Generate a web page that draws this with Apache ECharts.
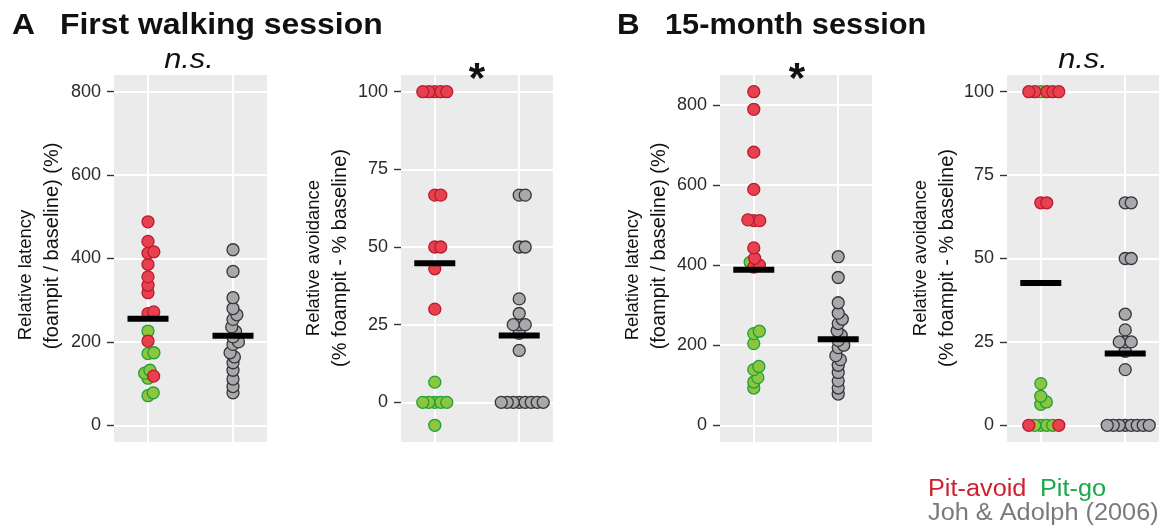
<!DOCTYPE html>
<html>
<head>
<meta charset="utf-8">
<title>Relative latency and avoidance</title>
<script src="https://cdn.jsdelivr.net/npm/echarts@6/dist/echarts.min.js"></script>
<style>
  html, body { margin: 0; padding: 0; background: #fff; }
  #chart { width: 1169px; height: 525px; }
</style>
</head>
<body>
<div id="chart"></div>
<script>
// values
var latencyTicks = [0, 200, 400, 600, 800];
var avoidTicks = [0, 25, 50, 75, 100];

// A: first walking session
var walkLatencyAvoid = [488, 441, 416, 413, 386, 356, 336, 318, 272, 268, 202, 118];
var walkLatencyGo = [226, 174, 172, 132, 125, 113, 78, 71];
var walkAvoidanceAvoid = [100, 100, 100, 100, 100, 66.7, 66.7, 50, 50, 43, 30];
var walkAvoidanceGo = [6.5, 0, 0, 0, 0, 0, -7.4];

// B: 15-month session
var monthLatencyAvoid = [833, 789, 682, 589, 513, 511, 511, 443, 417, 400, 395];
var monthLatencyGo = [407, 235, 229, 204, 147, 139, 119, 108, 93];
var monthAvoidanceAvoid = [100, 100, 100, 100, 100, 66.7, 66.7, 0, 0];
var monthAvoidanceGo = [100, 12.5, 8.7, 7, 6.3, 0, 0, 0, 0];

// Joh & Adolph (2006)
var johLatency = [421, 369, 306, 280, 265, 254, 236, 225, 212, 200, 194, 174, 164, 150, 132, 111, 93, 78];
var johAvoidance = [66.7, 66.7, 50, 50, 33.3, 28.6, 25, 25, 25, 22.2, 16.7, 0, 0, 0, 0, 0, 0, 0, 0];

var latencyName = ['Relative latency', '(foampit / baseline) (%)'];
var avoidName = ['Relative avoidance', '(% foampit - % baseline)'];

var RED = {color: '#e8404f', borderColor: '#b81c2e', borderWidth: 1.3, opacity: 1};
var GREEN = {color: '#8cc63f', borderColor: '#1f9f3c', borderWidth: 1.3, opacity: 1};
var GREY = {color: '#a7a9ac', borderColor: '#353535', borderWidth: 1.3, opacity: 1};

var TOP = 75, HEIGHT = 367;
var panels = [
  {left: 114, width: 153, avoid: walkLatencyAvoid, go: walkLatencyGo, joh: johLatency, ticks: latencyTicks, limits: [0, 800], name: latencyName},
  {left: 401, width: 152, avoid: walkAvoidanceAvoid, go: walkAvoidanceGo, joh: johAvoidance, ticks: avoidTicks, limits: [], name: avoidName},
  {left: 720, width: 152, avoid: monthLatencyAvoid, go: monthLatencyGo, joh: johLatency, ticks: latencyTicks, limits: [0, 800], name: latencyName},
  {left: 1007, width: 152, avoid: monthAvoidanceAvoid, go: monthAvoidanceGo, joh: johAvoidance, ticks: avoidTicks, limits: [], name: avoidName}
];

function mean(a) {
  var s = 0;
  a.forEach(function(v) { s += v; });
  return s / a.length;
}

// beeswarm: place points bottom-up, nearest free x offset (pixels)
function swarm(items, pxY, d) {
  var order = items.map(function(it, i) { return i; });
  order.sort(function(a, b) { return (items[a].v - items[b].v) || (a - b); });
  var placed = [];
  order.forEach(function(i) {
    var y = items[i].v * pxY;
    var cands = [0];
    placed.forEach(function(p) {
      var dy = Math.abs(p.y - y);
      if (dy < d) {
        var w = Math.sqrt(d * d - dy * dy);
        cands.push(p.x + w, p.x - w);
      }
    });
    cands.sort(function(a, b) { return (Math.abs(a) - Math.abs(b)) || (b - a); });
    var x = 0;
    for (var k = 0; k < cands.length; k++) {
      var ok = placed.every(function(p) {
        return Math.sqrt((p.x - cands[k]) * (p.x - cands[k]) + (p.y - y) * (p.y - y)) >= d - 1e-6;
      });
      if (ok) { x = cands[k]; break; }
    }
    placed.push({x: x, y: y, item: items[i]});
  });
  return placed;
}

var grids = [], xAxes = [], yAxes = [], series = [];

panels.forEach(function(p, idx) {
  var all = p.avoid.concat(p.go, p.joh, p.limits);
  var lo = Math.min.apply(null, all), hi = Math.max.apply(null, all);
  var pad = (hi - lo) * 0.05;
  var ymin = lo - pad, ymax = hi + pad;
  var pxY = HEIGHT / (ymax - ymin);
  var pxX = p.width / 1.8;

  grids.push({left: p.left, top: TOP, width: p.width, height: HEIGHT, show: true,
    backgroundColor: '#ebebeb', borderWidth: 0});
  xAxes.push({gridIndex: idx, type: 'value', min: 0.6, max: 2.4,
    axisLine: {show: false}, axisTick: {show: false}, axisLabel: {show: false}, splitLine: {show: false}});
  yAxes.push({gridIndex: idx, type: 'value', min: ymin, max: ymax,
    axisLine: {show: false}, splitLine: {show: false},
    axisTick: {show: true, length: 7, customValues: p.ticks, lineStyle: {color: '#333', width: 1.4}},
    axisLabel: {customValues: p.ticks, fontSize: 18, color: '#2a2a2a', margin: 13, fontFamily: 'Liberation Sans'}});

  // white grid lines (markLine defaults to z 5, keep it under the points)
  var lines = p.ticks.map(function(t) { return {yAxis: t}; }).concat([{xAxis: 1}, {xAxis: 2}]);
  series.push({type: 'scatter', xAxisIndex: idx, yAxisIndex: idx, data: [], z: 1, silent: true,
    markLine: {z: 1, silent: true, symbol: ['none', 'none'], label: {show: false}, animation: false,
      lineStyle: {color: '#ffffff', width: 2, type: 'solid', opacity: 1}, data: lines}});

  var groupA = p.go.map(function(v) { return {v: v, style: GREEN}; })
    .concat(p.avoid.map(function(v) { return {v: v, style: RED}; }));
  var groupB = p.joh.map(function(v) { return {v: v, style: GREY}; });
  // one swarm per column; pit-go drawn first, pit-avoid on top
  var layers = {go: [], avoid: [], joh: []};
  swarm(groupA, pxY, 6).forEach(function(s) {
    layers[s.item.style === GREEN ? 'go' : 'avoid'].push({value: [1 + s.x / pxX, s.item.v], itemStyle: s.item.style});
  });
  swarm(groupB, pxY, 6).forEach(function(s) {
    layers.joh.push({value: [2 + s.x / pxX, s.item.v], itemStyle: s.item.style});
  });
  ['joh', 'go', 'avoid'].forEach(function(k) {
    series.push({type: 'scatter', xAxisIndex: idx, yAxisIndex: idx, symbolSize: 12, z: 3,
      animation: false, data: layers[k]});
  });

  series.push({type: 'scatter', xAxisIndex: idx, yAxisIndex: idx, symbol: 'rect', symbolSize: [41, 6], z: 4,
    animation: false, itemStyle: {color: '#000', opacity: 1},
    data: [[1, mean(p.avoid.concat(p.go))], [2, mean(p.joh)]]});
});

function txt(x, y, s, style, sx, rot) {
  return {type: 'text', x: x, y: y, scaleX: sx || 1, rotation: rot || 0,
    style: Object.assign({text: s, fontFamily: 'Liberation Sans', fill: '#111', verticalAlign: 'middle'}, style)};
}

var graphics = [
  txt(12, 26, 'A', {fontSize: 29, fontWeight: 'bold'}, 1.1),
  txt(60, 26, 'First walking session', {fontSize: 29, fontWeight: 'bold'}, 1.1),
  txt(617, 26, 'B', {fontSize: 29, fontWeight: 'bold'}, 1.08),
  txt(665, 26, '15-month session', {fontSize: 29, fontWeight: 'bold'}, 1.06),
  txt(189, 60, 'n.s.', {fontSize: 28, fontStyle: 'italic', align: 'center'}, 1.1),
  txt(1083, 60, 'n.s.', {fontSize: 28, fontStyle: 'italic', align: 'center'}, 1.1),
  txt(477, 80, '*', {fontSize: 42, fontWeight: 'bold', align: 'center'}),
  txt(797, 80, '*', {fontSize: 42, fontWeight: 'bold', align: 'center'}),
  txt(928, 490, 'Pit-avoid', {fontSize: 23, fill: '#d0202f'}, 1.1),
  txt(1040, 490, 'Pit-go', {fontSize: 23, fill: '#1aa84a'}, 1.1),
  txt(928, 514, 'Joh & Adolph (2006)', {fontSize: 23, fill: '#7a7a7a'}, 1.1)
];

// rotated y-axis titles, two lines each
[[26, 52, 275, 246, latencyName], [314, 340, 258, 258, avoidName],
 [633, 659, 275, 246, latencyName], [921, 947, 258, 258, avoidName]].forEach(function(t) {
  graphics.push(txt(t[0], t[2], t[4][0], {fontSize: 18.5, align: 'center'}, 1, Math.PI / 2));
  graphics.push(txt(t[1], t[3], t[4][1], {fontSize: 20, align: 'center'}, 1, Math.PI / 2));
});

var chart = echarts.init(document.getElementById('chart'), null, {renderer: 'canvas'});
chart.setOption({
  animation: false,
  backgroundColor: '#ffffff',
  grid: grids,
  xAxis: xAxes,
  yAxis: yAxes,
  series: series,
  graphic: graphics
});
</script>
</body>
</html>
